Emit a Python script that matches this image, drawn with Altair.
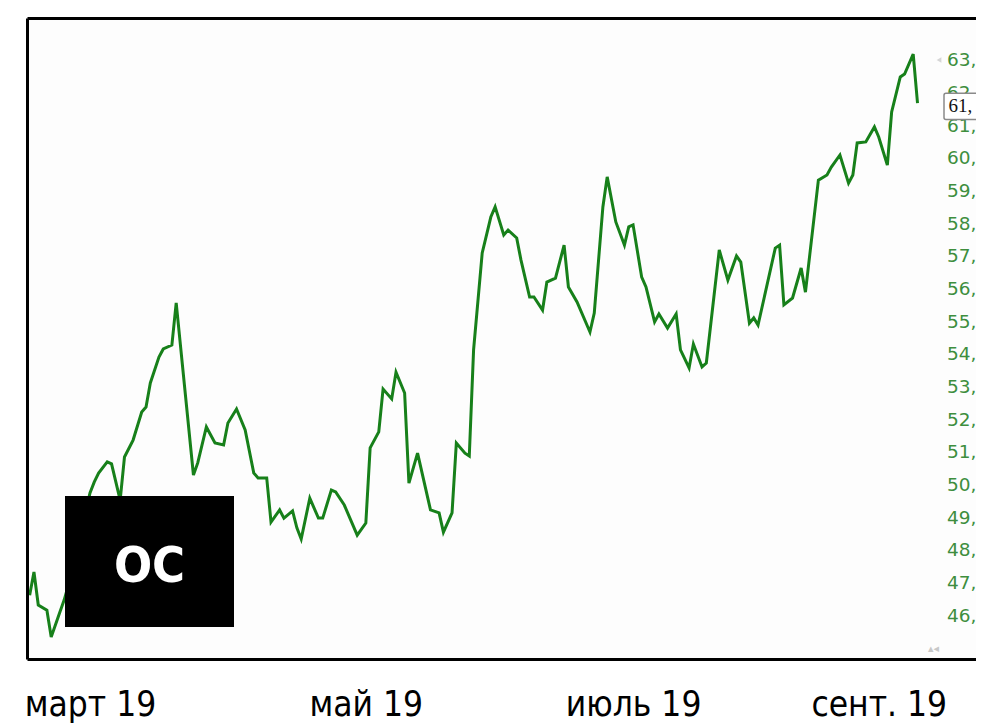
import altair as alt
import pandas as pd

# ---- data ----
day_offsets = [-14, -13, -12, -10, -9, -7, -6, -4, -2, 0, 1, 2, 4, 5, 7, 8, 10, 12, 13, 14,
               16, 17, 19, 20, 24, 25, 27, 29, 31, 32, 34, 36, 38, 39, 41, 42, 44, 45, 47, 48,
               49, 51, 53, 54, 56, 57, 59, 62, 64, 65, 67, 68, 70, 71, 73, 74, 76, 79, 81, 82,
               84, 85, 87, 88, 89, 91, 93, 94, 96, 97, 99, 100, 102, 103, 105, 106, 108, 110, 111, 113,
               116, 117, 119, 120, 122, 124, 125, 126, 128, 129, 131, 132, 134, 136, 137, 139, 140, 142, 143, 146,
               148, 150, 151, 153, 154, 155, 159, 160, 161, 163, 165, 166, 169, 171, 172, 174, 176, 177, 178, 180,
               182, 183, 185, 186, 188, 189, 191, 192]
prices = [46.61, 47.32, 46.31, 46.15, 45.33, 46.09, 46.46, 47.38, 48.60, 49.74, 50.08, 50.35, 50.69, 50.63, 49.52, 50.84, 51.36, 52.22, 52.37, 53.11,
          53.90, 54.15, 54.27, 55.56, 50.29, 50.66, 51.76, 51.27, 51.21, 51.88, 52.31, 51.67, 50.35, 50.20, 50.20, 48.85, 49.22, 48.97, 49.19, 48.67,
          48.33, 49.58, 48.97, 48.97, 49.83, 49.77, 49.37, 48.45, 48.82, 51.12, 51.61, 52.92, 52.62, 53.44, 52.80, 50.04, 50.96, 49.22, 49.13, 48.54,
          49.13, 51.27, 50.96, 50.87, 54.12, 57.09, 58.19, 58.50, 57.64, 57.79, 57.55, 56.87, 55.74, 55.74, 55.34, 56.20, 56.32, 57.33, 56.05, 55.59,
          54.67, 55.25, 58.50, 59.42, 58.04, 57.33, 57.89, 57.95, 56.35, 56.05, 54.98, 55.22, 54.79, 55.22, 54.12, 53.57, 54.30, 53.60, 53.72, 57.18,
          56.26, 57.00, 56.81, 54.94, 55.10, 54.88, 57.24, 57.33, 55.50, 55.71, 56.63, 55.89, 59.32, 59.48, 59.72, 60.09, 59.23, 59.48, 60.46, 60.49,
          60.95, 60.64, 59.78, 61.41, 62.48, 62.57, 63.18, 61.68]
assert len(day_offsets) == len(prices)

base_date = "2019-03-01"
month_labels = ["март 19", "май 19", "июль 19", "сент. 19"]
label_dates = ["2019-03-01", "2019-05-04", "2019-07-05", "2019-08-31"]
y_ticks = list(range(46, 64))
badge_text = ["61,"]
logo_text = ["OC"]

# ---- layout ----
W, H = 948.5, 641
PX_PER_DAY = 4.31
LEFT_DAYS = 14.5
COND = "'DejaVu Sans Condensed', 'Roboto Condensed', 'Noto Sans Condensed', Roboto, sans-serif"

def ms(ts):
    return int(pd.Timestamp(ts).value // 10**6)

start = pd.Timestamp(base_date) - pd.Timedelta(days=LEFT_DAYS)
end = start + pd.Timedelta(days=W / PX_PER_DAY)

df = pd.DataFrame({
    "date": [(pd.Timestamp(base_date) + pd.Timedelta(days=d)).strftime("%Y-%m-%d") for d in day_offsets],
    "price": prices,
})

y_dom = [44.64, 64.27]
x_scale = alt.Scale(type="utc", domain=[ms(start), ms(end)])
y_scale = alt.Scale(domain=y_dom, nice=False, zero=False)

m = "utcmonth(datum.value + 3*86400000)"
label_expr = (f"{m}==2?'%s':{m}==4?'%s':{m}==6?'%s':'%s'") % tuple(month_labels)

y_axis = alt.Axis(orient="right", values=y_ticks, offset=-29.5,
                  labelExpr="datum.value + ','",
                  labelColor="#3e8e3e", labelFontSize=18.5, labelFont="DejaVu Sans",
                  labelPadding=0, labelAlign="left", labelBaseline="middle",
                  labelOverlap=False, labelBound=False,
                  grid=False, domain=False, ticks=False, title=None)

line = alt.Chart(df).mark_line(color="#17801a", strokeWidth=3, clip=True).encode(
    x=alt.X("date:T", scale=x_scale,
            axis=alt.Axis(values=[ms(d) for d in label_dates], labelExpr=label_expr,
                          grid=False, domain=False, ticks=False, title=None,
                          labelFontSize=35, labelFont=COND,
                          labelColor="#000000", labelPadding=28, labelFlush=False,
                          labelOverlap=False)),
    y=alt.Y("price:Q", scale=y_scale, axis=y_axis),
)

last_val = prices[-1]
badge_df = pd.DataFrame({"lo": [last_val - 0.5], "hi": [last_val + 0.3], "mid": [last_val - 0.08],
                         "t": badge_text})
badge_box = alt.Chart(badge_df).mark_rect(fill="#ffffff", stroke="#8a8a8a", strokeWidth=1.5,
                                          cornerRadius=2).encode(
    x=alt.value(916.5), x2=alt.value(W + 10),
    y=alt.Y("lo:Q", scale=y_scale, axis=y_axis), y2="hi:Q",
)
badge_txt = alt.Chart(badge_df).mark_text(align="left", baseline="middle", font="Liberation Serif",
                                          fontSize=19, color="#111111").encode(
    x=alt.value(921), y=alt.Y("mid:Q", scale=y_scale, axis=y_axis), text="t:N",
)

tri_df = pd.DataFrame({"v": [63.0]})
tri = alt.Chart(tri_df).mark_point(shape="triangle-left", filled=True, color="#c4c4c4", size=30).encode(
    x=alt.value(911.5), y=alt.Y("v:Q", scale=y_scale, axis=y_axis),
)
corner = alt.Chart(pd.DataFrame({"s": ["▴◂"]})).mark_text(color="#c8c8c8", fontSize=11,
                                                          font="DejaVu Sans").encode(
    x=alt.value(906), y=alt.value(630), text="s:N",
)

logo_df = pd.DataFrame({"t": logo_text})
logo_box = alt.Chart(logo_df).mark_rect(color="#000000").encode(
    x=alt.value(37.5), x2=alt.value(206.5), y=alt.value(477.5), y2=alt.value(608.5),
)
logo_txt = alt.Chart(logo_df).mark_text(color="#ffffff", fontSize=50, font=COND,
                                        fontWeight="bold", align="center", baseline="middle").encode(
    x=alt.value(122), y=alt.value(548), text="t:N",
)

frame_df = pd.DataFrame({"k": [0]})
left_rule = alt.Chart(frame_df).mark_rule(color="#000000", strokeWidth=3).encode(
    x=alt.value(0), y=alt.value(0), y2=alt.value(H))
top_rule = alt.Chart(frame_df).mark_rule(color="#000000", strokeWidth=3).encode(
    x=alt.value(0), x2=alt.value(W + 10), y=alt.value(0))
bottom_rule = alt.Chart(frame_df).mark_rule(color="#000000", strokeWidth=3).encode(
    x=alt.value(0), x2=alt.value(W + 10), y=alt.value(H))

chart = alt.layer(
    line, badge_box, badge_txt, tri, corner, logo_box, logo_txt, left_rule, top_rule, bottom_rule
).properties(
    width=W, height=H,
    autosize=alt.AutoSizeParams(type="none"),
    padding={"left": 19.5, "top": 10.5, "right": 0, "bottom": 66},
    background="#ffffff",
).configure_view(stroke=None, fill="#fdfdfd").configure_axis(labelOverlap=False)

chart.save("out.html", embed_options={"renderer": "svg", "actions": False})
